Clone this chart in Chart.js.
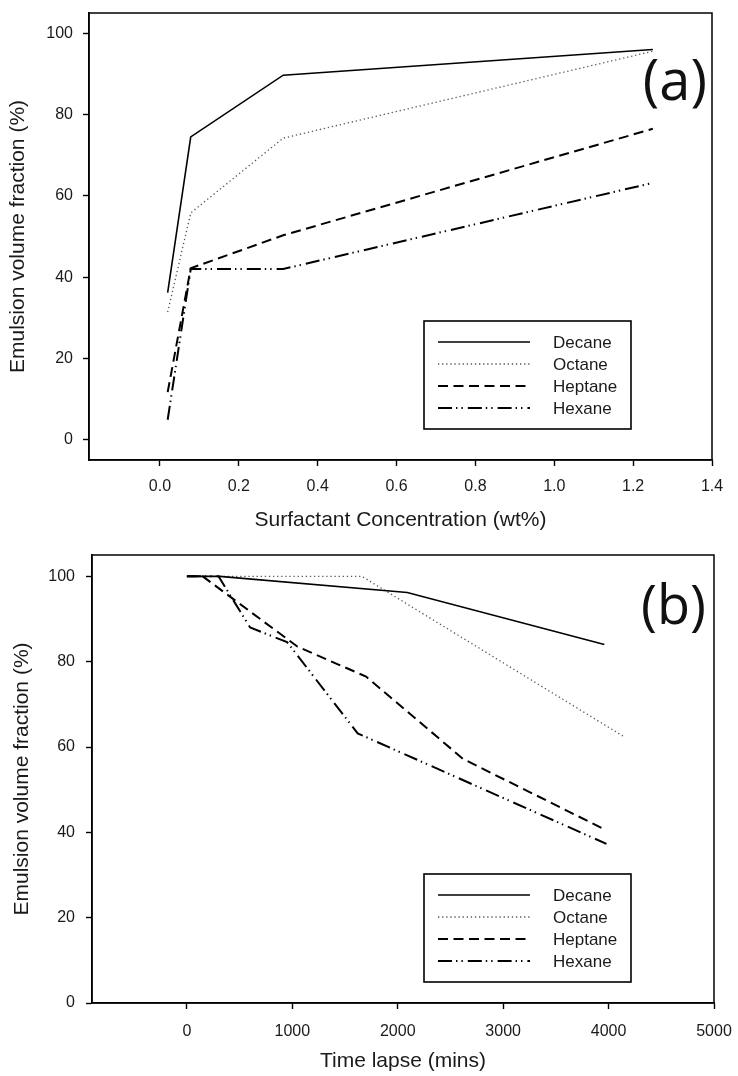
<!DOCTYPE html>
<html>
<head>
<meta charset="utf-8">
<script src="https://cdn.jsdelivr.net/npm/chart.js@4.4.1/dist/chart.umd.min.js"></script>
<style>
  html, body { margin: 0; padding: 0; background: #fff; }
  .panel { position: relative; width: 738px; height: 538px; }
  canvas { display: block; }
</style>
</head>
<body>
<div class="panel"><canvas id="chartA" width="738" height="538"></canvas></div>
<div class="panel"><canvas id="chartB" width="738" height="538"></canvas></div>
<script>
// ---- data -------------------------------------------------------------
const seriesNames = ['Decane', 'Octane', 'Heptane', 'Hexane'];

// (a) emulsion volume fraction vs surfactant concentration (wt%)
const concentration = [0.0195, 0.078, 0.3125, 1.25];
const decaneA  = [36.2, 74.5, 89.7, 96.0];
const octaneA  = [31.4, 55.8, 74.2, 95.6];
const heptaneA = [11.7, 42.2, 50.3, 76.5];
const hexaneA  = [4.9, 42.0, 42.0, 63.2];

// (b) emulsion volume fraction vs time lapse (mins)
const decaneTime  = [0, 310, 2090, 3960];
const decaneB     = [100, 100, 96.2, 84.0];
const octaneTime  = [0, 1660, 4140];
const octaneB     = [100, 100, 62.5];
const heptaneTime = [0, 150, 1050, 1700, 2620, 3960];
const heptaneB    = [100, 100, 83.5, 76.5, 57.2, 40.7];
const hexaneTime  = [0, 300, 600, 950, 1620, 3980];
const hexaneB     = [100, 100, 88.0, 84.6, 63.2, 37.3];

// tick values and labels
const xTicksA  = [0, 0.2, 0.4, 0.6, 0.8, 1.0, 1.2, 1.4];
const xLabelsA = ['0.0', '0.2', '0.4', '0.6', '0.8', '1.0', '1.2', '1.4'];
const xTicksB  = [0, 1000, 2000, 3000, 4000, 5000];
const xLabelsB = ['0', '1000', '2000', '3000', '4000', '5000'];
const yTicks   = [0, 20, 40, 60, 80, 100];
const yLabels  = ['0', '20', '40', '60', '80', '100'];

// ---- styling ----------------------------------------------------------
const FONT = "'Liberation Sans', Arial, sans-serif";
const lineStyles = {
  Decane:  { color: '#000', width: 1.6, dash: [] },
  Octane:  { color: '#555', width: 1.3, dash: [1.3, 2.8] },
  Heptane: { color: '#000', width: 2.0, dash: [10, 5.5] },
  Hexane:  { color: '#000', width: 2.0, dash: [14, 4, 1.4, 4, 1.4, 5] }
};

function zip(xs, ys) { return xs.map((x, i) => ({ x: x, y: ys[i] })); }

function makeDatasets(pairs) {
  return seriesNames.map((name, i) => {
    const s = lineStyles[name];
    return {
      label: name,
      data: pairs[i],
      borderColor: s.color,
      borderWidth: s.width,
      borderDash: s.dash,
      borderCapStyle: 'butt',
      borderJoinStyle: 'miter',
      pointRadius: 0,
      tension: 0,
      fill: false
    };
  });
}

// axis factory; the outer margins of the plot box are set through the
// scale paddings so the layout places the frame exactly
function axis(cfg) {
  return {
    type: 'linear',
    min: cfg.min,
    max: cfg.max,
    afterBuildTicks: s => { s.ticks = cfg.ticks.map(v => ({ value: v })); },
    afterFit: s => {
      if (cfg.horizontal) {
        s.height = cfg.size;
        s.paddingLeft = 0; s.paddingRight = cfg.margin;
        s.paddingTop = 0; s.paddingBottom = 0;
      } else {
        s.width = cfg.size;
        s.paddingTop = cfg.margin; s.paddingBottom = 0;
        s.paddingLeft = 0; s.paddingRight = 0;
      }
    },
    ticks: {
      autoSkip: false,
      maxRotation: 0,
      minRotation: 0,
      padding: cfg.tickPad,
      color: '#1a1a1a',
      font: { family: FONT, size: 16 },
      callback: (v, i) => cfg.labels[i]
    },
    grid: {
      display: true,
      drawOnChartArea: false,
      drawTicks: true,
      tickLength: 6,
      tickWidth: 1.4,
      tickColor: '#000'
    },
    border: { display: true, color: '#000', width: 1.5 },
    title: {
      display: true,
      text: cfg.title,
      color: '#1a1a1a',
      font: { family: FONT, size: 21 },
      padding: cfg.titlePad
    }
  };
}

// frame, boxed legend and panel letter
const panelDecor = {
  id: 'panelDecor',
  afterDraw(chart, args, o) {
    const { ctx, chartArea: a } = chart;
    ctx.save();
    ctx.strokeStyle = '#000';
    ctx.lineWidth = 1.5;
    ctx.setLineDash([]);
    ctx.strokeRect(a.left, a.top, a.right - a.left, a.bottom - a.top);

    // legend
    const L = o.legend;
    ctx.lineWidth = 1.6;
    ctx.strokeRect(L.x, L.y, L.w, L.h);
    ctx.font = '17px ' + FONT;
    ctx.textBaseline = 'middle';
    ctx.textAlign = 'left';
    chart.data.datasets.forEach((ds, i) => {
      const y = L.y + L.firstRow + i * L.rowGap;
      ctx.beginPath();
      ctx.strokeStyle = ds.borderColor;
      ctx.lineWidth = ds.borderWidth;
      ctx.lineCap = 'butt';
      ctx.setLineDash(ds.borderDash || []);
      ctx.moveTo(L.x + L.sampleFrom, y);
      ctx.lineTo(L.x + L.sampleTo, y);
      ctx.stroke();
      ctx.setLineDash([]);
      ctx.fillStyle = '#1a1a1a';
      ctx.fillText(ds.label, L.x + L.textAt, y + 1);
    });

    // panel letter
    const P = o.letter;
    ctx.font = P.size + "px 'Open Sans', 'DejaVu Sans', sans-serif";
    ctx.fillStyle = '#111';
    ctx.textAlign = 'right';
    ctx.textBaseline = 'middle';
    ctx.fillText(P.text, P.x, P.y);
    ctx.restore();
  }
};

const legendLayout = { w: 207, h: 108, firstRow: 21, rowGap: 22, sampleFrom: 14, sampleTo: 106, textAt: 129 };

// ---- chart (a) ----------------------------------------------------------
new Chart(document.getElementById('chartA'), {
  type: 'line',
  data: {
    datasets: makeDatasets([
      zip(concentration, decaneA),
      zip(concentration, octaneA),
      zip(concentration, heptaneA),
      zip(concentration, hexaneA)
    ])
  },
  options: {
    responsive: false,
    animation: false,
    devicePixelRatio: 1,
    layout: { padding: 0 },
    scales: {
      x: axis({ horizontal: true, size: 78, margin: 26, min: -0.18, max: 1.4, ticks: xTicksA, labels: xLabelsA,
                tickPad: 11, title: 'Surfactant Concentration (wt%)', titlePad: { top: 0, bottom: 5 } }),
      y: axis({ horizontal: false, size: 89, margin: 13, min: -5, max: 105, ticks: yTicks, labels: yLabels,
                tickPad: 10, title: 'Emulsion volume fraction (%)', titlePad: { top: 6, bottom: 0 } })
    },
    plugins: {
      legend: { display: false },
      tooltip: { enabled: false },
      panelDecor: {
        legend: Object.assign({ x: 424, y: 321 }, legendLayout),
        letter: { text: '(a)', x: 707, y: 84, size: 56 }
      }
    }
  },
  plugins: [panelDecor]
});

// ---- chart (b) ----------------------------------------------------------
new Chart(document.getElementById('chartB'), {
  type: 'line',
  data: {
    datasets: makeDatasets([
      zip(decaneTime, decaneB),
      zip(octaneTime, octaneB),
      zip(heptaneTime, heptaneB),
      zip(hexaneTime, hexaneB)
    ])
  },
  options: {
    responsive: false,
    animation: false,
    devicePixelRatio: 1,
    layout: { padding: 0 },
    scales: {
      x: axis({ horizontal: true, size: 73, margin: 24, min: -900, max: 5000, ticks: xTicksB, labels: xLabelsB,
                tickPad: 13, title: 'Time lapse (mins)', titlePad: { top: 0, bottom: 2 } }),
      y: axis({ horizontal: false, size: 92, margin: 17, min: 0, max: 105, ticks: yTicks, labels: yLabels,
                tickPad: 11, title: 'Emulsion volume fraction (%)', titlePad: { top: 10, bottom: 0 } })
    },
    plugins: {
      legend: { display: false },
      tooltip: { enabled: false },
      panelDecor: {
        legend: Object.assign({ x: 424, y: 336 }, legendLayout),
        letter: { text: '(b)', x: 706, y: 71, size: 54 }
      }
    }
  },
  plugins: [panelDecor]
});
</script>
</body>
</html>
